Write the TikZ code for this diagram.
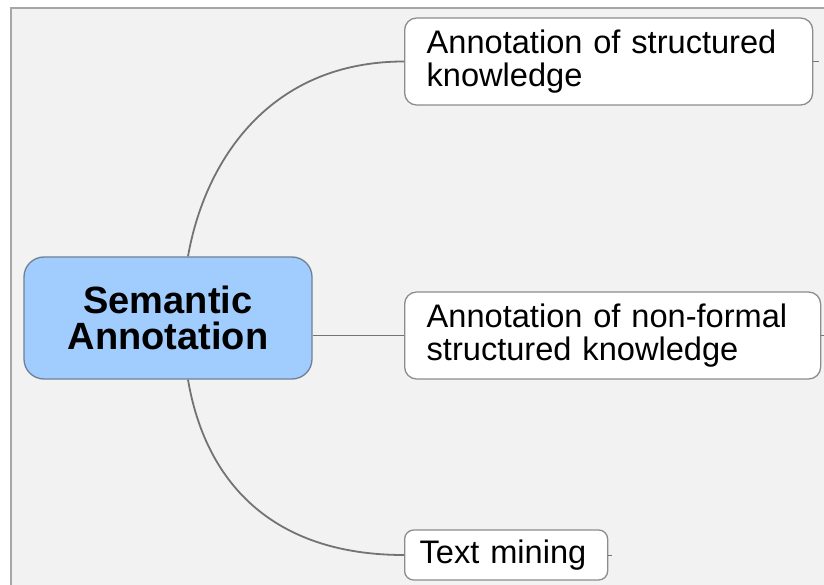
\documentclass[tikz,border=0pt]{standalone}
\usepackage{fontspec}
\setmainfont{Liberation Sans}
\definecolor{centralfill}{RGB}{160,205,253}
\definecolor{centralline}{RGB}{112,128,148}
\definecolor{canvas}{RGB}{242,242,242}
\begin{document}
\begin{tikzpicture}[x=1pt,y=-1pt,
  topic/.style={draw=black!45, line width=1.3pt, fill=white, rounded corners=12pt,
    align=left, anchor=west, inner xsep=0pt, inner ysep=0pt,
    font=\fontsize{32.6}{33}\selectfont},
  central/.style={draw=centralline, line width=1.3pt, fill=centralfill,
    rounded corners=20pt, align=center, inner sep=0pt,
    font=\fontsize{38}{36}\selectfont\bfseries},
  link/.style={draw=black!55, line width=1.8pt}]
\useasboundingbox (0,0) rectangle (824,585);
% canvas and its frame
\fill[white] (0,0) rectangle (824,585);
\fill[canvas] (11,8) rectangle (824,585);
\draw[black!35, line width=2pt] (11,585) -- (11,8) -- (824,8);

% central topic
\node[central, minimum width=288pt, minimum height=122pt] (c) at (168,318)
  {Semantic\\Annotation};

% subtopics
\node[topic, minimum width=408pt, minimum height=87pt, text width=396pt] (n1) at (404,61.5)
  {\hspace*{16pt}Annotation of structured\\\hspace*{16pt}knowledge};
\node[topic, minimum width=416pt, minimum height=87pt, text width=404pt] (n2) at (404,335.5)
  {\hspace*{16pt}Annotation of non-formal\\\hspace*{16pt}structured knowledge};
\node[topic, minimum width=203pt, minimum height=50pt, text width=203pt, rounded corners=9pt] (n3) at (404,555)
  {\hspace*{15pt}Text mining};

% free ends of the stubs
\coordinate (s1) at (819,61.5);
\coordinate (s2) at (826,335.5);
\coordinate (s3) at (612,555);

% connectors
\path[link] ([xshift=20pt]c.north) .. controls (205,160) and (270,61.5) .. (n1.west);
\path[link] (c.east |- n2.west) -- (n2.west);
\path[link] ([xshift=20pt]c.south) .. controls (205,480) and (270,555) .. (n3.west);
\path[link, line width=1pt] (n1.east) -- (s1);
\path[link, line width=1pt] (n2.east) -- (s2);
\path[link, line width=1pt] (n3.east) -- (s3);
\end{tikzpicture}
\end{document}
